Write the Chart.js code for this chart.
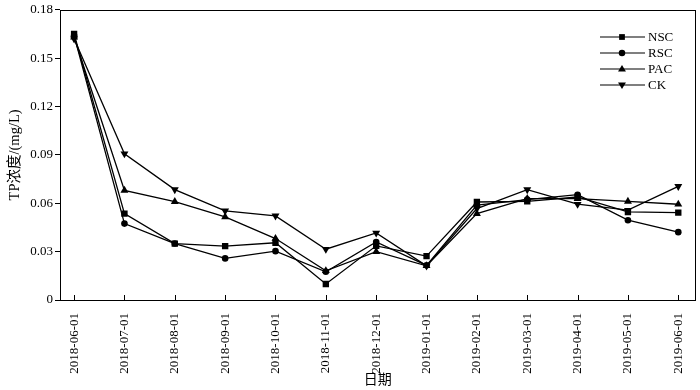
<!DOCTYPE html>
<html>
<head>
<meta charset="utf-8">
<script src="https://cdn.jsdelivr.net/npm/chart.js@4.4.1/dist/chart.umd.min.js"></script>
<style>
  html, body { margin: 0; padding: 0; background: #fff; }
  #wrap { width: 700px; height: 390px; }
</style>
</head>
<body>
<div id="wrap"><canvas id="tpChart" width="700" height="390"></canvas></div>
<script>
// --- datos ---
const dates = ['2018-06-01', '2018-07-01', '2018-08-01', '2018-09-01', '2018-10-01', '2018-11-01', '2018-12-01',
               '2019-01-01', '2019-02-01', '2019-03-01', '2019-04-01', '2019-05-01', '2019-06-01'];
const nscValues = [0.165, 0.0536, 0.035, 0.0334, 0.0355, 0.0099, 0.0336, 0.0272, 0.0608, 0.0612, 0.0639, 0.0546, 0.0542];
const rscValues = [0.164, 0.0474, 0.035, 0.0258, 0.0303, 0.0175, 0.036, 0.0215, 0.0588, 0.0623, 0.0653, 0.0495, 0.0421];
const pacValues = [0.163, 0.068, 0.061, 0.0515, 0.0381, 0.0181, 0.030, 0.0212, 0.0536, 0.0629, 0.0629, 0.0612, 0.0594];
const ckValues  = [0.162, 0.0907, 0.0685, 0.0553, 0.0522, 0.0315, 0.0416, 0.0212, 0.0567, 0.0685, 0.0594, 0.0557, 0.0705];
const yTicks = [0, 0.03, 0.06, 0.09, 0.12, 0.15, 0.18];

const seriesNames = ['NSC', 'RSC', 'PAC', 'CK'];
const seriesValues = [nscValues, rscValues, pacValues, ckValues];
const seriesMarkers = ['rect', 'circle', 'triangle', 'triangleDown'];

const serif = '"Liberation Serif", "Times New Roman", "Noto Sans CJK SC", serif';

// dibuja un marcador (para la leyenda)
function drawMarker(ctx, kind, x, y, r) {
    ctx.beginPath();
    if (kind === 'rect') {
        ctx.rect(x - r * 0.8, y - r * 0.8, r * 1.6, r * 1.6);
    } else if (kind === 'circle') {
        ctx.arc(x, y, r * 0.9, 0, Math.PI * 2);
    } else if (kind === 'triangle') {
        ctx.moveTo(x, y - r * 1.1);
        ctx.lineTo(x + r * 1.1, y + r * 0.7);
        ctx.lineTo(x - r * 1.1, y + r * 0.7);
        ctx.closePath();
    } else {
        ctx.moveTo(x, y + r * 1.1);
        ctx.lineTo(x + r * 1.1, y - r * 0.7);
        ctx.lineTo(x - r * 1.1, y - r * 0.7);
        ctx.closePath();
    }
    ctx.fill();
}

// marco, marcas del eje x hacia dentro y leyenda
const framePlugin = {
    id: 'framePlugin',
    afterDatasetsDraw(chart) {
        const ctx = chart.ctx;
        const area = chart.chartArea;
        const xs = chart.scales.x;
        ctx.save();
        ctx.strokeStyle = '#000';
        ctx.lineWidth = 1;
        ctx.strokeRect(Math.round(area.left) + 0.5, Math.round(area.top) + 0.5,
                       Math.round(area.right - area.left), Math.round(area.bottom - area.top));
        dates.forEach((d, i) => {
            const px = Math.round(xs.getPixelForValue(i)) + 0.5;
            ctx.beginPath();
            ctx.moveTo(px, area.bottom);
            ctx.lineTo(px, area.bottom - 5);
            ctx.stroke();
        });

        // leyenda
        ctx.fillStyle = '#000';
        ctx.font = '13px ' + serif;
        ctx.textBaseline = 'middle';
        seriesNames.forEach((name, i) => {
            const y = 37 + i * 16;
            ctx.lineWidth = 1.2;
            ctx.beginPath();
            ctx.moveTo(600, y);
            ctx.lineTo(645, y);
            ctx.stroke();
            drawMarker(ctx, seriesMarkers[i], 622, y, 3.6);
            ctx.fillText(name, 648, y + 1);
        });
        ctx.restore();
    }
};

const datasets = seriesNames.map((name, i) => ({
    label: name,
    data: seriesValues[i].map((v, j) => ({ x: j, y: v })),
    borderColor: '#000',
    backgroundColor: '#000',
    borderWidth: 1.3,
    pointStyle: seriesMarkers[i] === 'triangleDown' ? 'triangle' : seriesMarkers[i],
    pointRotation: seriesMarkers[i] === 'triangleDown' ? 180 : 0,
    pointRadius: { rect: 4.5, circle: 3.3, triangle: 4.6, triangleDown: 4.6 }[seriesMarkers[i]],
    pointBorderWidth: 0,
    tension: 0
}));

new Chart(document.getElementById('tpChart').getContext('2d'), {
    type: 'line',
    data: { datasets: datasets },
    options: {
        responsive: false,
        animation: false,
        layout: { padding: { left: 0, top: 9, right: 4, bottom: 0 } },
        plugins: {
            legend: { display: false },
            tooltip: { enabled: false }
        },
        scales: {
            x: {
                type: 'linear',
                min: -0.28,
                max: 12.34,
                afterBuildTicks: scale => { scale.ticks = dates.map((d, i) => ({ value: i })); },
                afterFit: scale => { scale.height = 90; },
                grid: { display: false },
                border: { display: false },
                ticks: {
                    autoSkip: false,
                    maxRotation: 90,
                    minRotation: 90,
                    padding: 5,
                    color: '#000',
                    font: { family: serif, size: 13 },
                    callback: v => dates[v]
                },
                title: {
                    display: true,
                    text: '日期',
                    color: '#000',
                    font: { family: serif, size: 14 },
                    padding: { top: 2, bottom: 1 }
                }
            },
            y: {
                min: 0,
                max: 0.18,
                afterBuildTicks: scale => { scale.ticks = yTicks.map(v => ({ value: v })); },
                afterFit: scale => { scale.width = 60; },
                grid: { drawOnChartArea: false, drawTicks: true, tickLength: 5, color: '#000' },
                border: { display: false },
                ticks: {
                    padding: 2,
                    color: '#000',
                    font: { family: serif, size: 13 },
                    callback: v => v === 0 ? '0' : v.toFixed(2)
                },
                title: {
                    display: true,
                    text: 'TP浓度/(mg/L)',
                    color: '#000',
                    font: { family: serif, size: 14.5 },
                    padding: { top: 6, bottom: 0 }
                }
            }
        }
    },
    plugins: [framePlugin]
});
</script>
</body>
</html>
